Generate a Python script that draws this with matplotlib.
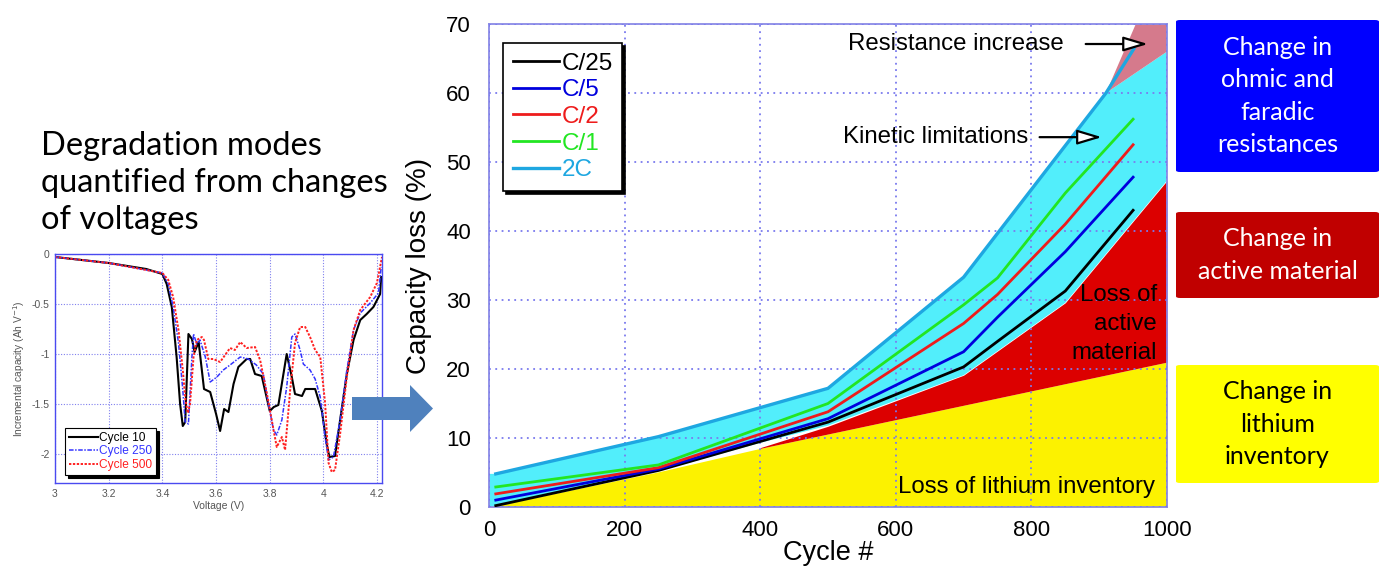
import numpy as np
import matplotlib
matplotlib.use("Agg")
import matplotlib.pyplot as plt
from matplotlib.patches import FancyBboxPatch, FancyArrow

plt.rcParams['font.family'] = ['Liberation Sans', 'DejaVu Sans']

# ---------------- main chart data ----------------
cycles = [10, 250, 500, 700, 750, 850, 950]
loss_c25 = [0.2, 5.3, 12.3, 20.3, 24.0, 31.3, 43.0]
loss_c5 = [1.0, 5.5, 12.8, 22.5, 27.5, 37.0, 47.8]
loss_c2 = [1.9, 5.7, 13.8, 26.6, 30.8, 41.0, 52.5]
loss_c1 = [2.9, 6.1, 15.0, 29.3, 33.2, 45.5, 56.2]
cycles_2c = [10, 250, 500, 700, 910, 951]
loss_2c = [4.8, 10.2, 17.2, 33.3, 60.0, 66.4]
rate_labels = ['C/25', 'C/5', 'C/2', 'C/1', '2C']

# degradation-mode region boundaries
lli_cycle = [0, 10, 250, 400, 1000]
lli_loss = [0, 0.2, 5.1, 8.5, 21.0]
lam_cycle = [400, 500, 700, 850, 1000]
lam_upper = [8.6, 11.7, 19.1, 29.6, 47.3]
kin_top_cycle = [0, 10, 250, 500, 700, 910, 1000]
kin_top = [4.8, 4.8, 10.2, 17.2, 33.3, 60.0, 66.0]
kin_bot_cycle = [0, 10, 250, 400, 500, 700, 850, 1000]
kin_bot = [0, 0.1, 5.2, 9.3, 11.8, 19.1, 29.6, 47.3]
res_cycle = [910, 954, 1000, 1000]
res_loss = [60.0, 70.0, 70.0, 66.0]

# ---------------- inset (incremental capacity) data ----------------
v10 = [3.0, 3.2, 3.34, 3.4, 3.416, 3.435, 3.453, 3.466, 3.476, 3.485, 3.497, 3.51, 3.52, 3.535,
       3.555, 3.578, 3.6, 3.615, 3.63, 3.646, 3.665, 3.683, 3.714, 3.727, 3.745, 3.77, 3.8, 3.815,
       3.832, 3.863, 3.882, 3.894, 3.92, 3.932, 3.969, 3.994, 4.012, 4.022, 4.043, 4.062, 4.087,
       4.112, 4.137, 4.161, 4.186, 4.211, 4.215]
ic10 = [-0.03, -0.09, -0.15, -0.2, -0.3, -0.53, -1.03, -1.5, -1.72, -1.68, -0.8, -0.85, -0.98, -0.88,
        -1.35, -1.38, -1.6, -1.77, -1.55, -1.58, -1.3, -1.13, -1.05, -1.05, -1.2, -1.22, -1.57, -1.53,
        -1.51, -1.0, -1.23, -1.4, -1.42, -1.35, -1.35, -1.57, -1.9, -2.03, -2.02, -1.66, -1.2,
        -0.86, -0.66, -0.6, -0.53, -0.4, -0.23]
v250 = [3.0, 3.2, 3.4, 3.422, 3.44, 3.46, 3.476, 3.485, 3.497, 3.51, 3.516, 3.528, 3.54, 3.56,
        3.578, 3.603, 3.627, 3.652, 3.69, 3.72, 3.75, 3.776, 3.795, 3.814, 3.826, 3.845, 3.863,
        3.882, 3.894, 3.913, 3.925, 3.95, 3.969, 3.988, 4.006, 4.019, 4.037, 4.062, 4.087, 4.112,
        4.137, 4.174, 4.205, 4.215]
ic250 = [-0.03, -0.09, -0.19, -0.3, -0.53, -0.89, -1.36, -1.68, -1.7, -1.03, -0.8, -0.9, -0.86, -1.03,
         -1.28, -1.23, -1.16, -1.11, -1.03, -1.05, -1.11, -1.2, -1.5, -1.76, -1.81, -1.66, -1.33,
         -0.83, -0.8, -0.96, -1.1, -1.16, -1.25, -1.43, -1.83, -2.06, -2.03, -1.66, -1.16, -0.76,
         -0.59, -0.49, -0.39, -0.13]
v500 = [3.0, 3.2, 3.4, 3.422, 3.44, 3.46, 3.476, 3.486, 3.495, 3.503, 3.516, 3.528, 3.547, 3.555,
        3.571, 3.59, 3.615, 3.652, 3.67, 3.69, 3.714, 3.745, 3.764, 3.789, 3.814, 3.826, 3.845,
        3.857, 3.876, 3.894, 3.913, 3.932, 3.95, 3.969, 3.988, 4.006, 4.019, 4.031, 4.043, 4.062,
        4.087, 4.112, 4.137, 4.174, 4.199, 4.218]
ic500 = [-0.03, -0.09, -0.19, -0.26, -0.43, -0.76, -1.16, -1.46, -1.59, -1.5, -1.03, -0.86, -0.83, -0.86,
         -1.05, -1.05, -1.08, -0.94, -0.96, -0.88, -0.94, -0.93, -1.06, -1.39, -1.76, -1.93, -1.83,
         -1.96, -1.36, -0.89, -0.73, -0.73, -0.83, -0.96, -1.03, -1.49, -2.09, -2.18, -2.16, -1.8,
         -1.23, -0.76, -0.56, -0.43, -0.29, -0.03]
inset_labels = ['Cycle 10', 'Cycle 250', 'Cycle 500']

W, H = 1384, 567
fig = plt.figure(figsize=(W / 100, H / 100), dpi=100)

def fx(px):
    return px / W

def fy(py):
    return 1 - py / H

# ---------------- main axes ----------------
ax = fig.add_axes([fx(489), fy(507), fx(1167 - 489), (507 - 24) / H])
ax.set_xlim(0, 1000)
ax.set_ylim(0, 70)
spine_c = '#8a8ae6'
for s in ax.spines.values():
    s.set_color(spine_c)
    s.set_linewidth(1.3)

ax.fill_between(lli_cycle, 0, lli_loss, color='#fcf200', lw=0, zorder=1)
ax.fill_between(lam_cycle, np.interp(lam_cycle, lli_cycle, lli_loss), lam_upper,
                color='#dc0000', lw=0, zorder=1)
ax.fill(np.concatenate([kin_top_cycle, kin_bot_cycle[::-1]]),
        np.concatenate([kin_top, kin_bot[::-1]]), color='#52eefb', lw=0, zorder=1)
ax.fill(res_cycle, res_loss, color='#d57a8c', lw=0, zorder=1)

ax.set_axisbelow(False)
ax.grid(True, color='#7a7aee', linestyle=(0, (1, 2.5)), linewidth=1.3, zorder=2)

series = [loss_c25, loss_c5, loss_c2, loss_c1]
colors = ['#000000', '#0000dd', '#ee1c1c', '#22e622', '#1ea7e1']
handles = []
for vals, c, lab in zip(series, colors[:4], rate_labels[:4]):
    h, = ax.plot(cycles, vals, color=c, lw=2.0, label=lab, zorder=3)
    handles.append(h)
h, = ax.plot(cycles_2c, loss_2c, color=colors[4], lw=2.4, label=rate_labels[4], zorder=3)
handles.append(h)

ax.set_xticks([0, 200, 400, 600, 800, 1000])
ax.set_yticks([0, 10, 20, 30, 40, 50, 60, 70])
ax.tick_params(axis='both', length=0, labelsize=16)
ax.tick_params(axis='y', pad=13)
ax.tick_params(axis='x', pad=9)
ax.set_xlabel('Cycle #', fontsize=19.5, labelpad=0)
ax.set_ylabel('Capacity loss (%)', fontsize=20, labelpad=10)

leg = ax.legend(handles=handles, loc='upper left', bbox_to_anchor=(0.0206, 0.9607),
                borderaxespad=0, fontsize=17.5, labelcolor='linecolor', frameon=True,
                fancybox=False, edgecolor='black', framealpha=1,
                shadow={'color': 'black', 'alpha': 1}, handlelength=1.9,
                handletextpad=0.1, labelspacing=0.19, borderpad=0.4)
leg.get_frame().set_linewidth(1.2)
leg.set_zorder(5)

astyle = dict(arrowstyle='-|>,head_length=1.5,head_width=0.45', fc='white', ec='black', lw=1.6)
ax.text(847, 67.1, 'Resistance increase', fontsize=17.3, ha='right', va='center', zorder=6)
ax.annotate('', xy=(976, 67.1), xytext=(876, 67.1), arrowprops=astyle, zorder=6)
ax.text(795, 53.6, 'Kinetic limitations', fontsize=17.3, ha='right', va='center', zorder=6)
ax.annotate('', xy=(908, 53.6), xytext=(808, 53.6), arrowprops=astyle, zorder=6)
ax.text(982, 2.9, 'Loss of lithium inventory', fontsize=17.3, ha='right', va='center', zorder=6)
ax.text(985, 26.5, 'Loss of\nactive\nmaterial', fontsize=17.3, ha='right', va='center',
        linespacing=1.4, zorder=6)

# ---------------- right-hand boxes ----------------
boxes = [
    (20, 172, '#0000ff', 'white', 'Change in\nohmic and\nfaradic\nresistances'),
    (212, 298, '#c00000', 'white', 'Change in\nactive material'),
    (365, 483, '#ffff00', 'black', 'Change in\nlithium\ninventory'),
]
for top, bot, fc, tc, txt in boxes:
    p = FancyBboxPatch((fx(1176), fy(bot)), fx(1379 - 1176), (bot - top) / H,
                       boxstyle='round,pad=0,rounding_size=0.003', transform=fig.transFigure,
                       fc=fc, ec='none')
    fig.patches.append(p)
    fig.text(fx(1277.5), fy((top + bot) / 2), txt, ha='center', va='center', color=tc,
             fontsize=18, family=['Lato', 'DejaVu Sans'], linespacing=1.5)

# ---------------- left text ----------------
fig.text(fx(41), fy(131), 'Degradation modes\nquantified from changes\nof voltages',
         ha='left', va='top', fontsize=23.5, family=['Lato', 'DejaVu Sans'], linespacing=1.3)

# ---------------- inset ----------------
ai = fig.add_axes([fx(55), fy(483), fx(382 - 55), (483 - 254) / H])
ai.set_xlim(3, 4.218)
ai.set_ylim(-2.29, 0)
for s in ai.spines.values():
    s.set_color('#4a4af0')
    s.set_linewidth(1.0)
ai.grid(True, color='#8080ee', linestyle=(0, (1, 1.5)), linewidth=0.8)
ai.plot(v10, ic10, color='black', lw=1.5, label=inset_labels[0])
ai.plot(v250, ic250, color='#3333ff', lw=1.1, ls=(0, (3, 1, 1, 1)), label=inset_labels[1])
ai.plot(v500, ic500, color='#ff2020', lw=1.4, ls=(0, (1.2, 0.8)), label=inset_labels[2])
ai.set_xticks([3, 3.2, 3.4, 3.6, 3.8, 4, 4.2])
ai.set_xticklabels(['3', '3.2', '3.4', '3.6', '3.8', '4', '4.2'])
ai.set_yticks([0, -0.5, -1, -1.5, -2])
ai.set_yticklabels(['0', '-0.5', '-1', '-1.5', '-2'])
ai.tick_params(axis='both', length=0, labelsize=7.5, labelcolor='#555555', pad=4)
ai.set_xlabel('Voltage (V)', fontsize=7.5, color='#555555', labelpad=2)
ai.set_ylabel('Incremental capacity (Ah V$^{-1}$)', fontsize=7.3, color='#555555', labelpad=3)
il = ai.legend(loc='lower left', bbox_to_anchor=(0.031, 0.035), borderaxespad=0, fontsize=8.6,
               labelcolor='linecolor', fancybox=False, edgecolor='black', framealpha=1,
               shadow={'color': 'black', 'alpha': 1}, handlelength=2.4, handletextpad=0.1,
               labelspacing=0.12, borderpad=0.35)
il.get_frame().set_linewidth(0.8)

# ---------------- block arrow ----------------
arr = FancyArrow(fx(352), fy(408.5), fx(433 - 352), 0, width=23 / H, head_width=47 / H,
                 head_length=fx(23), length_includes_head=True, transform=fig.transFigure,
                 fc='#4f81bd', ec='none')
fig.patches.append(arr)

fig.savefig('out.png', dpi=100)
